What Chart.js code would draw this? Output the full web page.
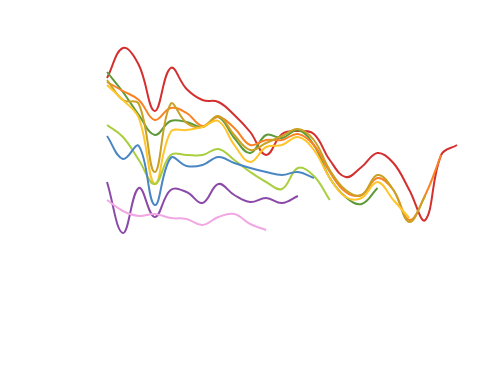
<!DOCTYPE html>
<html>
<head>
<meta charset="utf-8">
<script src="https://cdn.jsdelivr.net/npm/chart.js@4"></script>
<style>
  html, body { margin: 0; padding: 0; background: #fff; }
  #wrap { width: 500px; height: 382px; position: relative; }
</style>
</head>
<body>
<div id="wrap"><canvas id="chart"></canvas></div>
<script>
// ---------- data ----------
const periods = [0,1,2,3,4,5,6,7,8,9,10,11,12,13,14,15,16,17,18,19,20,21,22];

const red        = [304,334,317,271,314,293,282,280,267,250,227,248,251,248,222,205,215,229,219,192,162,227,237];
const orange     = [300,291,282,262,274,269,256,265,254,237,242,242,248,237,210,190,187,204,192,162,187,227];
const goldenrod  = [302,282,278,210,278,259,255,266,247,232,239,246,253,242,212,192,187,207,192,160,186];
const yellow     = [297,282,264,198,250,252,255,261,237,220,235,237,245,232,204,185,184,200,182,164];
const green      = [310,290,267,247,261,260,255,265,244,229,247,244,252,237,204,185,178,194];
const lime       = [257,245,222,198,227,227,227,233,222,210,200,193,214,206,182];
const blue       = [246,223,236,177,224,216,217,225,219,214,210,207,210,204];
const purple     = [200,149,194,165,192,190,179,198,187,180,184,179,186];
const pink       = [182,171,166,168,164,163,157,165,168,158,152];

// ---------- chart ----------
function series(vals, color){
  return {
    data: vals.map((v,i)=>({ x: periods[i], y: v })),
    borderColor: color,
    borderWidth: 2,
    pointRadius: 0,
    fill: false,
    tension: 0.4
  };
}

new Chart(document.getElementById('chart'), {
  type: 'line',
  data: {
    datasets: [
      series(pink,      '#f2a7e3'),
      series(purple,    '#8b4aa8'),
      series(blue,      '#4a86c4'),
      series(lime,      '#a9cf3f'),
      series(yellow,    '#ffc52a'),
      series(goldenrod, '#c9a124'),
      series(orange,    '#fb8224'),
      series(green,     '#5e9a38'),
      series(red,       '#d42f2f')
    ]
  },
  options: {
    responsive: true, maintainAspectRatio: false,
    animation: false,
    layout: { padding: 0 },
    plugins: { legend: { display: false }, tooltip: { enabled: false } },
    scales: {
      x: { type: 'linear', display: false, min: -6.726, max: 24.70 },
      y: { display: false, min: 0, max: 382 }
    }
  }
});
</script>
</body>
</html>
